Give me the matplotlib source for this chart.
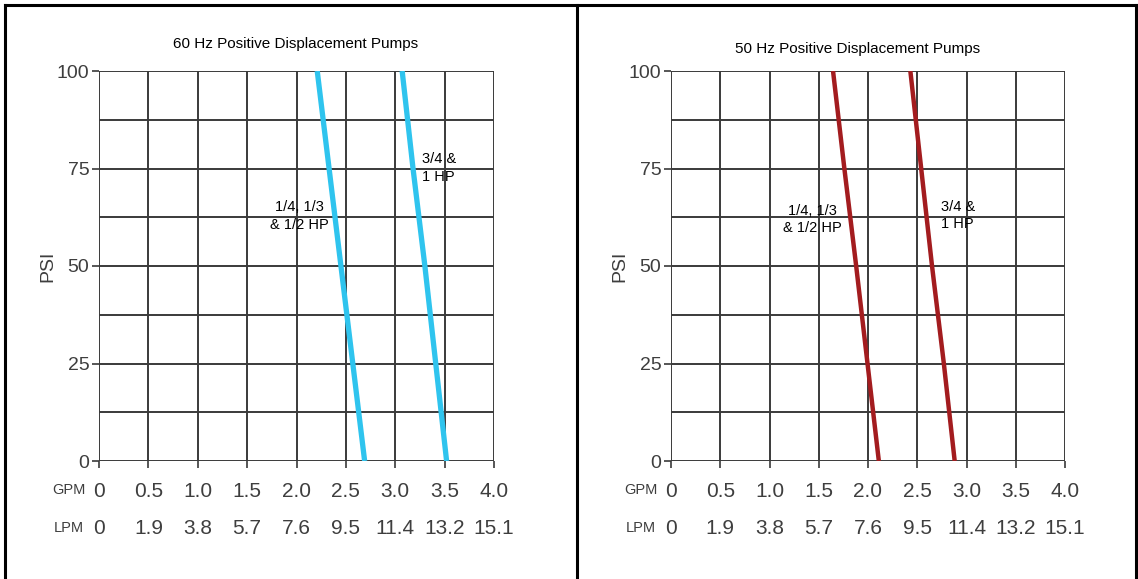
import matplotlib
matplotlib.use("Agg")
import matplotlib.pyplot as plt
from matplotlib.lines import Line2D

# ---- data ----
psi_points = [100, 75, 50, 25, 0]
gpm60_small = [2.21, 2.33, 2.45, 2.57, 2.69]
gpm60_large = [3.07, 3.18, 3.30, 3.41, 3.52]
gpm50_small = [1.645, 1.76, 1.88, 1.995, 2.11]
gpm50_large = [2.43, 2.54, 2.65, 2.77, 2.88]

gpm_ticks = [0, 0.5, 1.0, 1.5, 2.0, 2.5, 3.0, 3.5, 4.0]
gpm_labels = ["0", "0.5", "1.0", "1.5", "2.0", "2.5", "3.0", "3.5", "4.0"]
lpm_labels = ["0", "1.9", "3.8", "5.7", "7.6", "9.5", "11.4", "13.2", "15.1"]
psi_ticks = [0, 25, 50, 75, 100]
psi_grid = [0, 12.5, 25, 37.5, 50, 62.5, 75, 87.5, 100]

titles = ["60 Hz Positive Displacement Pumps", "50 Hz Positive Displacement Pumps"]
label_small = "1/4, 1/3\n& 1/2 HP"
label_large = "3/4 &\n1 HP"

NARROW = ["Liberation Sans Narrow", "Liberation Sans", "DejaVu Sans"]
SANS = ["Liberation Sans", "DejaVu Sans"]
GRID = "#3a3a3a"
TXT = "#3e3e3e"

W, H = 1138, 579
fig = plt.figure(figsize=(W / 100, H / 100), dpi=100)

def px_ax(x0, x1, ytop, ybot):
    return fig.add_axes([x0 / W, 1 - ybot / H, (x1 - x0) / W, (ybot - ytop) / H])

panels = [
    dict(ax=px_ax(99, 494, 71, 461), small=gpm60_small, large=gpm60_large,
         color="#2fc4ee", lw=3.8, title=titles[0], tpos=(296, 44),
         ls_pos=(2.03, 62.8), ll_pos=(3.44, 75.1)),
    dict(ax=px_ax(671, 1065, 71, 461), small=gpm50_small, large=gpm50_large,
         color="#a31c1f", lw=3.2, title=titles[1], tpos=(858, 49),
         ls_pos=(1.44, 62.0), ll_pos=(2.91, 63.0)),
]

for p in panels:
    ax = p["ax"]
    ax.set_xlim(0, 4.0)
    ax.set_ylim(0, 100)
    for s in ax.spines.values():
        s.set_visible(False)
    for g in gpm_ticks:
        ax.axvline(g, color=GRID, lw=1.4, zorder=1)
    for g in psi_grid:
        ax.axhline(g, color=GRID, lw=1.4, zorder=1)
    ax.set_xticks(gpm_ticks)
    ax.set_xticklabels(gpm_labels, fontsize=15, color=TXT, family=SANS)
    ax.set_yticks(psi_ticks)
    ax.set_yticklabels([str(v) for v in psi_ticks], fontsize=14, color=TXT, family=SANS)
    ax.tick_params(axis="x", length=5, width=1.2, color=GRID, pad=10)
    ax.tick_params(axis="y", length=5, width=1.2, color=GRID, pad=2)
    tr = ax.get_xaxis_transform()
    for g, lab in zip(gpm_ticks, lpm_labels):
        ax.text(g, -0.172, lab, transform=tr, ha="center", va="center",
                fontsize=15, color=TXT, family=SANS)
    ax.text(-0.077, -0.074, "GPM", transform=ax.transAxes, ha="center", va="center",
            fontsize=10.5, color=TXT, family=NARROW)
    ax.text(-0.077, -0.172, "LPM", transform=ax.transAxes, ha="center", va="center",
            fontsize=10.5, color=TXT, family=NARROW)
    ax.set_ylabel("PSI", fontsize=14, color=TXT, family=SANS, labelpad=0)
    ax.plot(p["small"], psi_points, color=p["color"], lw=p["lw"], zorder=3,
            solid_capstyle="butt")
    ax.plot(p["large"], psi_points, color=p["color"], lw=p["lw"], zorder=3,
            solid_capstyle="butt")
    ax.text(*p["ls_pos"], label_small, ha="center", va="center", fontsize=10.5,
            family=NARROW, color="black", linespacing=1.3, zorder=4)
    ax.text(*p["ll_pos"], label_large, ha="center", va="center", fontsize=10.5,
            family=NARROW, color="black", linespacing=1.3, zorder=4)
    fig.text(p["tpos"][0] / W, 1 - p["tpos"][1] / H, p["title"], ha="center",
             va="center", fontsize=11, family=NARROW, color="black")

# panel borders
def fline(x0, y0, x1, y1):
    fig.add_artist(Line2D([x0 / W, x1 / W], [1 - y0 / H, 1 - y1 / H],
                          color="black", lw=2.2, transform=fig.transFigure))

fline(5, 5, 1136, 5)
fline(5, 5, 5, 579)
fline(577, 5, 577, 579)
fline(1136, 5, 1136, 579)

fig.savefig("out.png", dpi=100)
